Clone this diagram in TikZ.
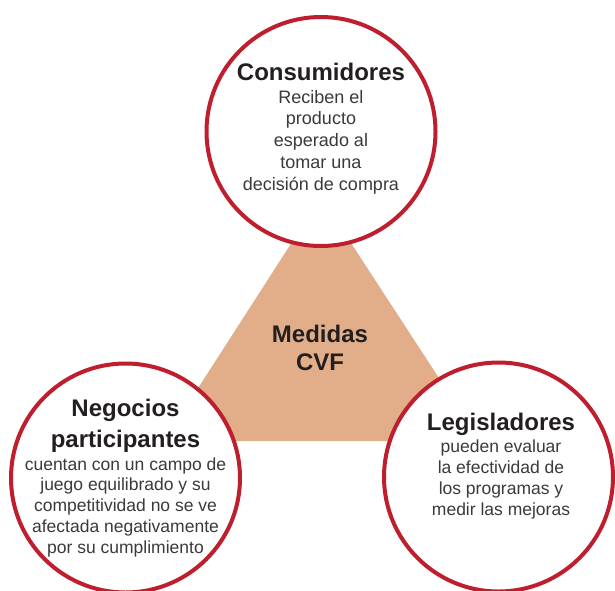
\documentclass[tikz,border=0pt]{standalone}
\usepackage{fontspec}
\setmainfont{Liberation Sans}
\definecolor{ringred}{HTML}{BE1E2D}
\definecolor{tri}{HTML}{E2AE8A}
\definecolor{titlec}{HTML}{231F20}
\definecolor{bodyc}{HTML}{3A3A3A}
\tikzset{
  ring/.style={circle, draw=ringred, line width=4pt, fill=white, minimum size=229pt, inner sep=0pt},
  ttl/.style={anchor=base, align=center, inner sep=0pt, text=titlec, font=\fontsize{24}{31}\selectfont\bfseries},
  bodytxt/.style={anchor=base, align=center, inner sep=0pt, text=bodyc, font=\fontsize{17.5}{20.75}\selectfont},
}
\begin{document}
\begin{tikzpicture}[x=1pt,y=-1pt]
\useasboundingbox (0,0) rectangle (615,590);
\fill[tri] (321,197) -- (164,441) -- (480,441) -- cycle;
\node[ttl, font=\fontsize{24}{28}\selectfont\bfseries] (center) at (320,370.7) {Medidas\\CVF};
\node[ring] (cons) at (321,131.5) {};
\node[ring] (neg) at (125.5,478) {};
\node[ring] (leg) at (498.5,477) {};
\node[ttl] (consT) at (321,80) {Consumidores};
\node[bodytxt, font=\fontsize{18}{21.75}\selectfont] (consB) at (321,190) {Reciben el\\producto\\esperado al\\tomar una\\decisión de compra};
\node[ttl] (negT) at (125.5,447) {Negocios\\participantes};
\node[bodytxt] (negB) at (125.5,553) {cuentan con un campo de\\juego equilibrado y su\\competitividad no se ve\\afectada negativamente\\por su cumplimiento};
\node[ttl] (legT) at (501,430) {Legisladores};
\node[bodytxt, font=\fontsize{17.5}{20.7}\selectfont] (legB) at (501,515) {pueden evaluar\\la efectividad de\\los programas y\\medir las mejoras};
\end{tikzpicture}
\end{document}
